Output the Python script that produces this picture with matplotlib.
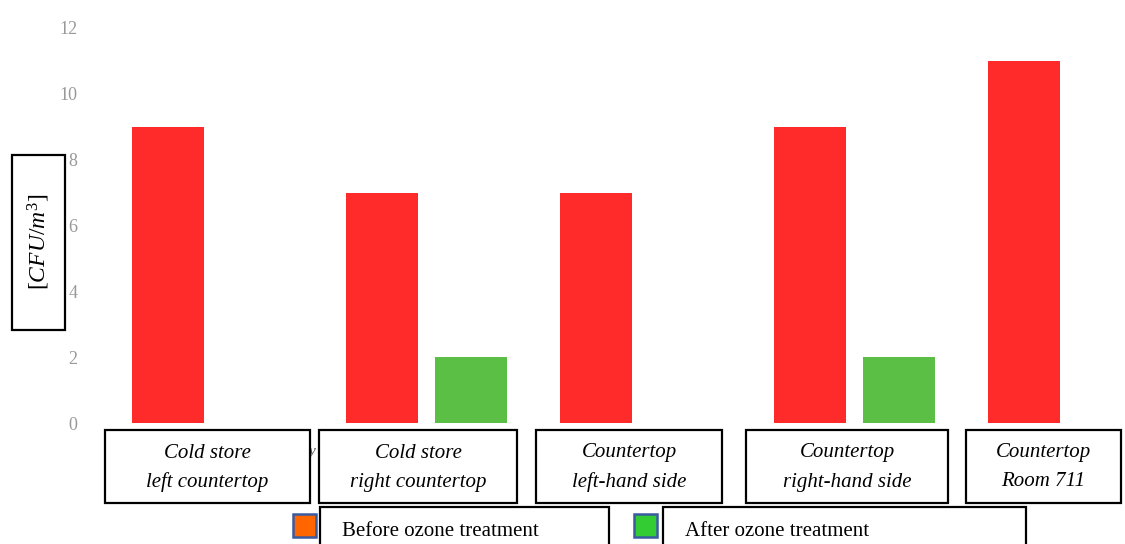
import matplotlib
matplotlib.use('Agg')
import matplotlib.pyplot as plt
from matplotlib.patches import Rectangle
import numpy as np

# ---------------- data ----------------
cat_line1 = ["Cold store", "Cold store", "Countertop", "Countertop", "Countertop"]
cat_line2 = ["left countertop", "right countertop", "left-hand side", "right-hand side", "Room 711"]
before = [9, 7, 7, 9, 11]
after = [0, 2, 0, 2, 0]
yticks = [0, 2, 4, 6, 8, 10, 12]
legend_labels = ["Before ozone treatment", "After ozone treatment"]
ylabel = r"$[CFU/m^{3}]$"

# ---------------- style ----------------
plt.rcParams['font.family'] = ['Liberation Serif', 'DejaVu Serif']
plt.rcParams['mathtext.fontset'] = 'custom'
plt.rcParams['mathtext.rm'] = 'Liberation Serif'
plt.rcParams['mathtext.it'] = 'Liberation Serif:italic'

W, H = 1125, 544
fig = plt.figure(figsize=(W / 100, H / 100), dpi=100)
fig.patch.set_facecolor('white')


def fx(px):
    return px / W


def fy(py):
    return 1 - py / H


# axes placement (pixels)
ax_left, ax_right, ax_top, ax_bot = 90, 1110, 28, 423
group0_px, group_step_px = 212.5, 213.9
ax = fig.add_axes([fx(ax_left), fy(ax_bot), (ax_right - ax_left) / W, (ax_bot - ax_top) / H])

x = np.arange(len(before))
off, bw = 0.208, 0.336
ax.bar(x - off, before, bw, color='#FF2B2B', zorder=2)
ax.bar(x + off, after, bw, color='#5BBF45', zorder=2)

ax.set_ylim(0, 12)
ax.set_xlim((ax_left - group0_px) / group_step_px, (ax_right - group0_px) / group_step_px)
ax.set_yticks(yticks)
ax.set_yticklabels([str(v) for v in yticks])
ax.set_xticks([])
ax.tick_params(axis='y', length=0, pad=9, labelsize=13, labelcolor='#999999')
for s in ax.spines.values():
    s.set_visible(False)


def box(x0, y0, x1, y1, lw=1.6):
    fig.add_artist(Rectangle((fx(x0), fy(y1)), fx(x1) - fx(x0), fy(y0) - fy(y1),
                             transform=fig.transFigure, facecolor='white',
                             edgecolor='black', linewidth=lw, zorder=3))


# y-label box
box(12, 155, 65, 330)
fig.text(fx(38.5), fy(242), ylabel, rotation=90, ha='center', va='center',
         fontsize=17, zorder=4)

# small stray glyph between first two boxes
fig.text(fx(312), fy(452), "y", fontsize=11, style='italic', color='#555555',
         ha='center', va='center', zorder=2)

# category boxes
cat_boxes = [(105, 310), (319, 517), (536, 722), (746, 948), (966, 1121)]
for (x0, x1), l1, l2 in zip(cat_boxes, cat_line1, cat_line2):
    box(x0, 430, x1, 503)
    cx = (x0 + x1) / 2
    fig.text(fx(cx), fy(453), l1, ha='center', va='center', fontsize=15,
             style='italic', zorder=4)
    fig.text(fx(cx), fy(482), l2, ha='center', va='center', fontsize=15,
             style='italic', zorder=4)

# legend
leg_boxes = [(320, 609), (663, 1026)]
leg_sq = [293, 634]
leg_colors = ['#FF6600', '#33CC33']
for (x0, x1), sx, col, lab in zip(leg_boxes, leg_sq, leg_colors, legend_labels):
    box(x0, 507, x1, 560)
    fig.add_artist(Rectangle((fx(sx), fy(537)), fx(23), 23 / H,
                             transform=fig.transFigure, facecolor=col,
                             edgecolor='#3A5BA0', linewidth=1.8, zorder=4))
    fig.text(fx(x0 + 22), fy(531), lab, ha='left', va='center', fontsize=15, zorder=4)

fig.savefig('out.png', dpi=100)
